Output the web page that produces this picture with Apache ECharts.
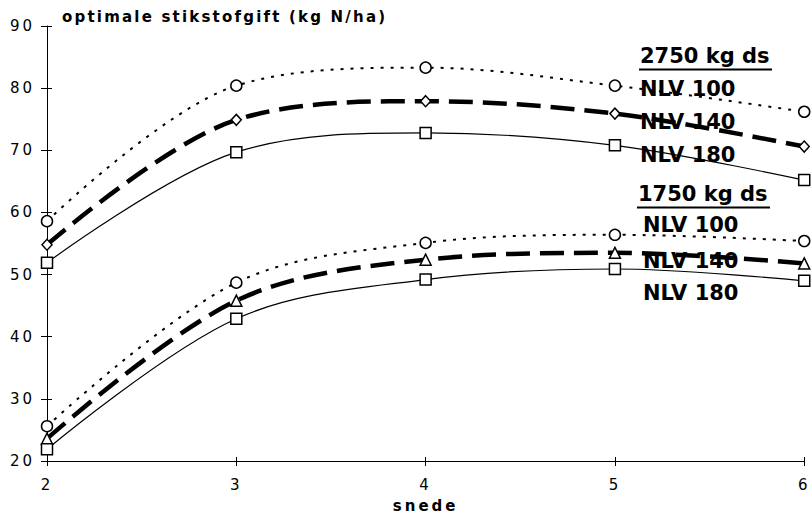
<!DOCTYPE html>
<html>
<head>
<meta charset="utf-8">
<script src="https://cdn.jsdelivr.net/npm/echarts@6/dist/echarts.min.js"></script>
<style>
html,body{margin:0;padding:0;background:#fff;}
#main{width:812px;height:518px;}
</style>
</head>
<body>
<div id="main"></div>
<script>
// ---- data ----
const snede = [2, 3, 4, 5, 6];
const ds2750_nlv100 = [58.6, 80.4, 83.3, 80.4, 76.2];
const ds2750_nlv140 = [54.8, 74.9, 77.9, 75.9, 70.6];
const ds2750_nlv180 = [51.9, 69.7, 72.8, 70.8, 65.2];
const ds1750_nlv100 = [25.6, 48.7, 55.1, 56.4, 55.4];
const ds1750_nlv140 = [23.6, 45.8, 52.4, 53.5, 51.8];
const ds1750_nlv180 = [21.9, 42.9, 49.2, 50.9, 49.0];
const yTitle = 'optimale stikstofgift (kg N/ha)';
const xTitle = 'snede';
const groupLabels = ['2750 kg ds', '1750 kg ds'];
const nlvLabels = ['NLV 100', 'NLV 140', 'NLV 180'];

function pairs(ys) { return snede.map((x, i) => [x, ys[i]]); }

const styles = {
  dotted: { color: '#000', width: 2, type: [3, 7] },
  dashed: { color: '#000', width: 4.5, type: [24, 10] },
  solid:  { color: '#000', width: 1.2, type: 'solid' }
};

function mkSeries(name, ys, lineStyle, symbol, size) {
  return {
    name: name,
    type: 'line',
    data: pairs(ys),
    smooth: 0.34,
    symbol: symbol,
    symbolSize: size,
    showAllSymbol: true,
    lineStyle: lineStyle,
    itemStyle: { color: '#fff', borderColor: '#000', borderWidth: 1.5 },
    emphasis: { disabled: true },
    z: 3
  };
}

const chart = echarts.init(document.getElementById('main'), null, { renderer: 'svg' });

const annoFont = 'bold 21px "DejaVu Sans"';
function annoText(t, x, y) {
  return { type: 'text', x: x, y: y, z: 10,
    style: { text: t, font: annoFont, fill: '#000', verticalAlign: 'middle', align: 'left' } };
}
function underline(x1, x2, y) {
  return { type: 'line', z: 10, shape: { x1: x1, y1: y, x2: x2, y2: y },
    style: { stroke: '#000', lineWidth: 2 } };
}

const option = {
  animation: false,
  backgroundColor: '#fff',
  grid: { left: 47, right: 6, top: 26, bottom: 53, containLabel: false },
  xAxis: [{
    type: 'value', min: 2, max: 6, interval: 1,
    name: xTitle, nameLocation: 'middle', nameGap: 37,
    nameTextStyle: { fontFamily: 'DejaVu Sans', fontWeight: 'bold', fontSize: 15, color: '#000' },
    axisLine: { show: true, lineStyle: { color: '#000', width: 1 } },
    axisTick: { show: true, inside: false, length: 5, lineStyle: { color: '#000' } },
    axisLabel: { fontFamily: 'DejaVu Sans', fontSize: 15, color: '#000', margin: 16 },
    splitLine: { show: false }
  }, {
    type: 'value', min: 2, max: 6, interval: 1, position: 'bottom',
    axisLine: { show: false },
    axisTick: { show: true, inside: true, length: 4, lineStyle: { color: '#000' } },
    axisLabel: { show: false }, splitLine: { show: false }
  }],
  yAxis: [{
    type: 'value', min: 20, max: 90, interval: 10,
    axisLine: { show: true, lineStyle: { color: '#000', width: 1 } },
    axisTick: { show: true, inside: false, length: 6, lineStyle: { color: '#000' } },
    axisLabel: { fontFamily: 'DejaVu Sans', fontSize: 15, color: '#000', margin: 12 },
    splitLine: { show: false }
  }, {
    type: 'value', min: 20, max: 90, interval: 10, position: 'left',
    axisLine: { show: false },
    axisTick: { show: true, inside: true, length: 5, lineStyle: { color: '#000' } },
    axisLabel: { show: false }, splitLine: { show: false }
  }],
  series: [
    mkSeries('2750 kg ds NLV 100', ds2750_nlv100, styles.dotted, 'circle', 11),
    mkSeries('2750 kg ds NLV 140', ds2750_nlv140, styles.dashed, 'diamond', [10, 11]),
    mkSeries('2750 kg ds NLV 180', ds2750_nlv180, styles.solid, 'rect', 11),
    mkSeries('1750 kg ds NLV 100', ds1750_nlv100, styles.dotted, 'circle', 11),
    mkSeries('1750 kg ds NLV 140', ds1750_nlv140, styles.dashed, 'triangle', 11),
    mkSeries('1750 kg ds NLV 180', ds1750_nlv180, styles.solid, 'rect', 11)
  ],
  graphic: [
    { type: 'text', x: 62, y: 17, z: 10,
      style: { text: yTitle, font: 'bold 15px "DejaVu Sans"', fill: '#000', verticalAlign: 'middle', align: 'left' } },
    annoText(groupLabels[0], 640, 56),
    underline(639, 772, 69.5),
    annoText(nlvLabels[0], 640, 89),
    annoText(nlvLabels[1], 640, 122),
    annoText(nlvLabels[2], 640, 155),
    annoText(groupLabels[1], 638, 194),
    underline(637, 770, 207.5),
    annoText(nlvLabels[0], 643, 225),
    annoText(nlvLabels[1], 643, 260.5),
    annoText(nlvLabels[2], 643, 293)
  ]
};
chart.setOption(option);

function applySpacing() {
  document.querySelectorAll('#main svg text').forEach(t => {
    const s = t.textContent;
    if (/NLV|kg ds/.test(s)) return;
    if (s === yTitle) t.style.letterSpacing = '2.2px';
    else if (s === xTitle) t.style.letterSpacing = '3px';
    else t.style.letterSpacing = '3px';
  });
}
chart.on('finished', applySpacing);
applySpacing();
setTimeout(applySpacing, 50);
</script>
</body>
</html>
